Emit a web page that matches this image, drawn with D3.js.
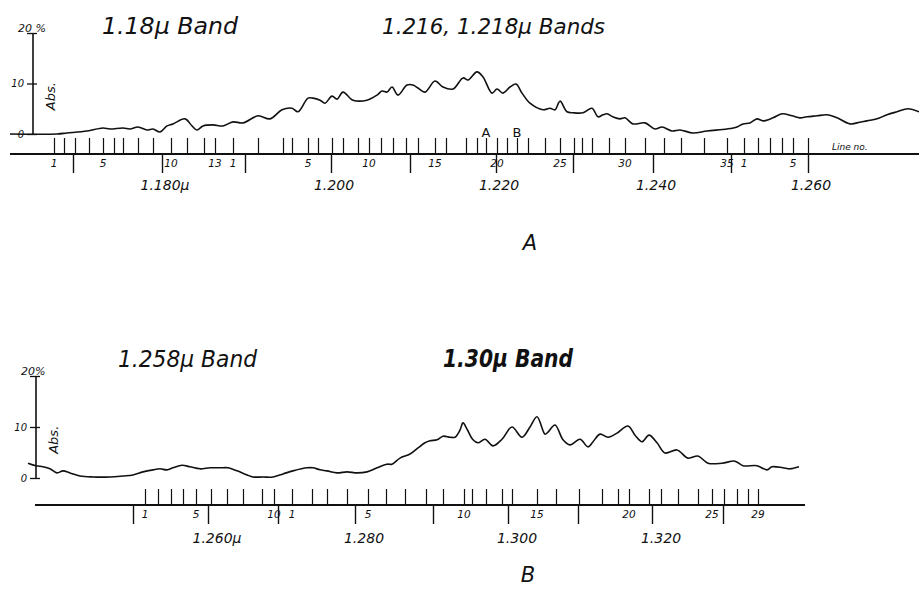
<!DOCTYPE html>
<html>
<head>
<meta charset="utf-8">
<script src="https://cdn.jsdelivr.net/npm/d3@7"></script>
<style>
body { margin: 0; background: #fff; }
svg text { font-family: "DejaVu Sans", sans-serif; font-style: italic; fill: #111; }
.axis path, .axis line { stroke: #111; }
</style>
</head>
<body>
<div id="chart"></div>
<script>
// positions along the record (cm), absorption in %
var curveA = [[0,0],[4.7,0],[5.7,0.2],[7.7,0.6],[9.3,1.2],[10.0,1.0],[11.3,1.2],[12.0,1.0],[12.8,1.4],[13.7,0.8],[14.3,1.0],[15.0,0.4],[15.7,1.6],[16.3,2.0],[17.5,3.0],[18.2,1.6],[18.7,0.8],[19.3,1.6],[20.3,1.8],[21.3,1.6],[22.3,2.4],[23.3,2.2],[24.8,3.6],[26.0,3.0],[27.2,4.8],[28.2,5.1],[28.8,4.4],[29.8,7.1],[30.3,7.1],[31.0,6.7],[31.5,6.1],[32.2,7.5],[32.7,6.9],[33.3,8.3],[34.3,6.7],[35.7,6.7],[36.7,7.7],[37.2,8.5],[37.7,8.3],[38.2,9.3],[38.8,7.7],[39.7,9.7],[40.3,9.7],[40.8,9.1],[41.5,8.3],[42.5,10.5],[43.3,9.3],[44.3,8.9],[45.3,11.1],[45.8,10.7],[46.7,12.3],[47.3,11.3],[48.2,8.1],[48.7,8.9],[49.3,8.1],[50.0,9.3],[50.6,9.9],[51.2,8.1],[52.0,6.1],[53.3,4.8],[54.0,5.1],[54.5,4.8],[55.0,6.5],[55.7,4.4],[56.3,4.2],[57.3,4.2],[58.2,5.1],[58.8,3.4],[59.3,3.8],[59.7,4.0],[60.3,3.4],[61.0,3.0],[61.5,3.2],[62.3,2.0],[63.5,2.2],[64.5,1.0],[65.2,1.4],[66.2,0.6],[67.0,0.8],[68.3,0.2],[69.7,0.6],[71.7,1.0],[72.7,1.4],[73.3,2.0],[74.0,2.2],[74.7,3.0],[75.3,2.6],[76.3,3.2],[77.2,4.0],[78.2,3.6],[79.0,3.2],[79.7,3.4],[80.7,3.6],[81.7,3.8],[82.7,3.2],[84.0,2.0],[84.7,2.2],[85.7,2.6],[86.7,3.0],[87.7,3.8],[88.7,4.4],[89.8,5.0],[90.9,4.4]];

var curveB = [[1.8,2.9],[2.6,2.4],[3.3,2.2],[4.0,1.8],[4.7,1.0],[5.3,1.4],[6.0,1.0],[7.0,0.4],[8.3,0.2],[10.0,0.2],[11.3,0.4],[12.3,0.6],[13.3,1.2],[14.3,1.6],[15.0,1.8],[15.7,1.6],[16.3,2.0],[17.2,2.5],[18.0,2.2],[19.0,1.8],[20.0,2.0],[21.0,2.0],[21.8,2.0],[22.7,1.4],[23.7,0.6],[24.3,0.2],[25.3,0.2],[26.3,0.2],[27.3,0.8],[28.3,1.4],[29.7,2.0],[30.3,2.0],[31.0,1.6],[31.7,1.4],[32.7,1.0],[33.7,1.2],[34.7,1.0],[35.7,1.2],[36.7,2.0],[37.7,2.7],[38.2,2.7],[39.0,3.9],[40.0,4.7],[40.8,5.9],[41.5,6.9],[42.0,7.3],[42.7,7.5],[43.3,8.2],[44.0,8.0],[44.5,8.0],[45.0,9.4],[45.3,10.8],[45.7,9.6],[46.3,7.5],[46.8,6.9],[47.5,7.6],[48.3,6.3],[49.2,7.6],[50.2,10.0],[51.2,8.0],[52.0,10.0],[52.7,12.0],[53.5,8.6],[53.8,9.0],[54.5,10.4],[55.3,7.5],[56.0,6.5],[57.0,7.6],[57.8,6.1],[58.3,7.1],[59.0,8.6],[59.8,8.0],[60.7,8.8],[61.8,10.2],[62.5,8.4],[63.2,7.1],[63.9,8.4],[64.7,6.9],[65.5,4.9],[66.7,5.5],[67.8,3.9],[68.8,4.3],[69.8,2.9],[71.2,2.9],[72.5,3.3],[73.3,2.4],[74.7,2.4],[75.7,1.6],[76.2,2.2],[77.3,2.0],[78.0,1.8],[78.9,2.2]];

// absorption line positions, one list per band (line no. 1, 2, 3 ...)
var linesA = [
  [4.4,5.4,6.5,7.9,9.3,10.4,11.3,12.8,14.3,16.1,17.7,19.4,20.5],
  [22.3,24.8,27.3,28.2,29.8,30.8,32.2,33.3,34.8,35.9,37.1,38.3,39.6,40.8,42.5,43.6,45.6,46.7,47.6,48.7,49.7,50.7,51.8,53.5,55.0,56.4,57.2,58.2,59.9,61.5,63.5,65.4,67.1,69.4,71.7],
  [73.4,74.8,76.0,77.2,78.3,79.8]
];
var lineLabelsA = [[1,5,10,13],[1,5,10,15,20,25,30,35],[1,5]];
var linesB = [
  [13.5,14.8,16.1,17.3,18.6,20.1,21.7,23.3,25.2,26.4],
  [28.2,30.2,31.7,33.7,35.8,37.6,39.5,41.6,43.3,45.4,46.2,47.6,49.2,50.2,52.7,54.6,56.9,59.2,60.8,61.9,63.9,65.1,66.8,68.8,70.2,71.4,72.7,73.8,74.8]
];
var lineLabelsB = [[1,5,10],[1,5,10,15,20,25,29]];

// wavelength calibration (μ) and where it falls on the record
var waveA = [1.170,1.180,1.190,1.200,1.210,1.220,1.230,1.240,1.250,1.260];
var wavePosA = [6.3,15.2,23.5,32.1,40.0,48.6,56.3,64.3,72.1,79.8];
var waveLabelsA = ["","1.180μ","","1.200","","1.220","","1.240","","1.260"];
var waveB = [1.250,1.260,1.270,1.280,1.290,1.300,1.310,1.320,1.330];
var wavePosB = [12.3,19.8,26.8,34.5,42.3,49.8,56.8,64.2,71.3];
var waveLabelsB = ["","1.260μ","","1.280","","1.300","","1.320",""];

var markersA = [{ label: "A", band: 1, line: 19 }, { label: "B", band: 1, line: 22 }];

var svg = d3.select("#chart").append("svg")
  .attr("width", 919).attr("height", 589);

var x = d3.scaleLinear().domain([0, 90.9]).range([10, 919]);

function drawPanel(cfg) {
  var y = d3.scaleLinear().domain([0, 20]).range([cfg.zeroY, cfg.topY]);
  var g = svg.append("g");

  // titles
  cfg.titles.forEach(function(t) {
    g.append("text").attr("x", t.x).attr("y", t.y)
      .attr("font-size", t.size).attr("textLength", t.w).attr("lengthAdjust", "spacingAndGlyphs")
      .style("font-weight", t.bold ? "bold" : "normal")
      .text(t.text);
  });

  // absorption axis
  var ya = g.append("g").attr("class", "axis")
    .attr("transform", "translate(" + cfg.axisX + ",0)")
    .call(d3.axisLeft(y).tickValues([0, 10, 20]).tickSize(6).tickPadding(3)
      .tickFormat(function(d) { return d == 20 ? "" : d; }));
  ya.select(".domain").attr("d", "M0," + y(0) + "V" + y(20)).attr("stroke-width", 1.6);
  ya.selectAll(".tick line").attr("x1", 4).attr("stroke-width", 1.3);
  ya.selectAll(".tick text").attr("font-size", 10).style("font-family", "DejaVu Sans").style("font-style", "italic");
  g.append("text").attr("x", cfg.axisX - 15).attr("y", y(20) - 1)
    .attr("font-size", 11).text(cfg.topLabel);
  g.append("text")
    .attr("transform", "translate(" + (cfg.axisX + 22) + "," + y(7.5) + ") rotate(-90)")
    .attr("text-anchor", "middle").attr("font-size", 13).text("Abs.");

  // curve
  g.append("path").datum(cfg.curve)
    .attr("fill", "none").attr("stroke", "#111").attr("stroke-width", 1.6)
    .attr("stroke-linejoin", "round")
    .attr("d", d3.line().x(function(d) { return x(d[0]); }).y(function(d) { return y(d[1]); })
      .curve(d3.curveCatmullRom.alpha(0.5)));

  // ruler
  g.append("line").attr("x1", x(cfg.ruler[0])).attr("x2", x(cfg.ruler[1]))
    .attr("y1", cfg.rulerY).attr("y2", cfg.rulerY)
    .attr("stroke", "#111").attr("stroke-width", 2.2);

  var allLines = d3.merge(cfg.lines);
  var lt = g.append("g").attr("class", "axis")
    .attr("transform", "translate(0," + cfg.rulerY + ")")
    .call(d3.axisTop(x).tickValues(allLines).tickSize(16).tickFormat(""));
  lt.select(".domain").remove();
  lt.selectAll(".tick line").attr("stroke-width", 1.2);

  var wt = g.append("g").attr("class", "axis")
    .attr("transform", "translate(0," + cfg.rulerY + ")")
    .call(d3.axisBottom(x).tickValues(cfg.wavePos).tickSize(19).tickFormat(""));
  wt.select(".domain").remove();
  wt.selectAll(".tick line").attr("stroke-width", 1.4);

  // line numbers
  cfg.lines.forEach(function(band, b) {
    cfg.lineLabels[b].forEach(function(n) {
      g.append("text").attr("x", x(band[n - 1])).attr("y", cfg.rulerY + 13)
        .attr("text-anchor", "middle").attr("font-size", 10.5).text(n);
    });
  });

  // wavelength labels
  cfg.wavePos.forEach(function(p, i) {
    if (!cfg.waveLabels[i]) return;
    g.append("text").attr("x", x(p) + cfg.waveDx).attr("y", cfg.waveLabelY)
      .attr("text-anchor", "middle").attr("font-size", 14).text(cfg.waveLabels[i]);
  });

  // panel letter
  g.append("text").attr("x", cfg.letter.x).attr("y", cfg.letter.y)
    .attr("text-anchor", "middle").attr("font-size", 21).text(cfg.letter.text);
  return g;
}

var gA = drawPanel({
  topY: 33, zeroY: 134, axisX: 33, rulerY: 154, ruler: [0, 90.9],
  curve: curveA, lines: linesA, lineLabels: lineLabelsA,
  wavePos: wavePosA, waveLabels: waveLabelsA, waveDx: 3, waveLabelY: 190,
  topLabel: "20   %",
  titles: [
    { text: "1.18μ Band", x: 102, y: 34, size: 23, w: 136 },
    { text: "1.216, 1.218μ Bands", x: 382, y: 34, size: 21, w: 223 }
  ],
  letter: { text: "A", x: 530, y: 250 }
});

markersA.forEach(function(m) {
  gA.append("text").attr("x", x(linesA[m.band][m.line - 1])).attr("y", 137)
    .attr("text-anchor", "middle").attr("font-size", 13).style("font-style", "normal")
    .text(m.label);
});
gA.append("text").attr("x", 832).attr("y", 150).attr("font-size", 9).text("Line no.");

drawPanel({
  topY: 376, zeroY: 478, axisX: 36, rulerY: 505, ruler: [2.5, 79.5],
  curve: curveB, lines: linesB, lineLabels: lineLabelsB,
  wavePos: wavePosB, waveLabels: waveLabelsB, waveDx: 9, waveLabelY: 543,
  topLabel: "20%",
  titles: [
    { text: "1.258μ Band", x: 118, y: 367, size: 23, w: 139 },
    { text: "1.30μ Band", x: 443, y: 367, size: 24, w: 130, bold: true }
  ],
  letter: { text: "B", x: 528, y: 582 }
});
</script>
</body>
</html>
